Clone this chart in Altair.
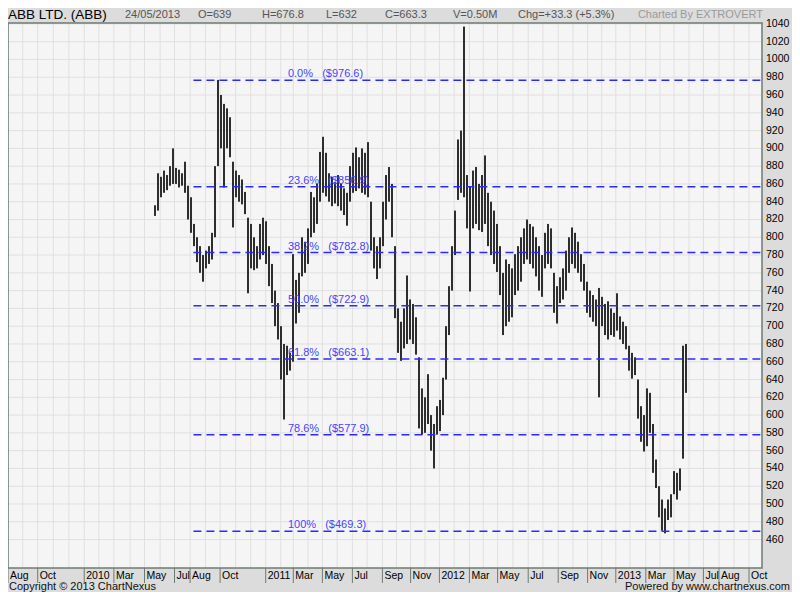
import altair as alt
import pandas as pd

# ---------------- data ----------------
# weekly price bars (high / low), first bar at bar-index 49, one index per week
bar_high = [836, 872, 868, 875, 870, 880, 900, 878, 876, 872,
            885, 858, 845, 815, 800, 790, 780, 785, 790, 805,
            880, 977, 960, 950, 945, 935, 885, 875, 870, 865,
            851, 822, 815, 800, 790, 815, 822, 818, 790, 770,
            740, 726, 700, 680, 678, 670, 781, 752, 760, 800,
            795, 810, 851, 845, 860, 896, 913, 895, 872, 868,
            862, 870, 860, 855, 850, 880, 895, 901, 890, 900,
            895, 907, 840, 800, 790, 800, 840, 870, 879, 860,
            790, 720, 705, 720, 757, 730, 725, 710, 665, 630,
            620, 646, 600, 590, 610, 617, 642, 700, 745, 790,
            830, 910, 920, 1037, 870, 857, 875, 879, 860, 870,
            892, 850, 840, 830, 815, 790, 760, 775, 770, 765,
            781, 790, 800, 810, 820, 815, 812, 800, 790, 780,
            805, 815, 810, 760, 745, 755, 765, 785, 800, 811,
            805, 795, 781, 770, 750, 740, 735, 730, 743, 733,
            725, 728, 720, 715, 737, 711, 705, 700, 678, 670,
            665, 640, 610, 600, 630, 625, 590, 550, 520, 505,
            495, 505, 511, 537, 535, 540, 678, 680]
bar_low = [824, 830, 845, 850, 853, 858, 860, 860, 856, 858,
           850, 820, 805, 790, 772, 760, 750, 765, 770, 775,
           800, 880, 900, 856, 900, 890, 811, 845, 840, 837,
           826, 737, 765, 763, 765, 775, 780, 770, 745, 726,
           700, 685, 640, 595, 645, 650, 660, 703, 715, 756,
           760, 770, 800, 805, 815, 840, 850, 846, 840, 835,
           838, 835, 830, 825, 813, 840, 850, 852, 855, 850,
           848, 845, 785, 765, 753, 765, 790, 820, 840, 800,
           709, 670, 661, 675, 680, 685, 680, 668, 585, 578,
           580, 590, 560, 540, 578, 582, 600, 640, 690, 740,
           780, 842, 850, 845, 810, 739, 810, 815, 808, 806,
           815, 790, 780, 770, 761, 735, 690, 700, 705, 710,
           735, 740, 750, 770, 775, 770, 765, 756, 740, 733,
           765, 770, 765, 715, 703, 726, 730, 740, 760, 770,
           765, 760, 750, 740, 715, 710, 705, 700, 620, 700,
           690, 685, 690, 688, 695, 685, 680, 674, 650, 641,
           645, 596, 570, 559, 565, 580, 535, 518, 485, 470,
           467, 482, 485, 511, 505, 515, 551, 625]
first_bar = 49

# Fibonacci retracement levels
fib_pct = ["0.0%", "23.6%", "38.2%", "50.0%", "61.8%", "78.6%", "100%"]
fib_level = [976.6, 856.9, 782.8, 722.9, 663.1, 577.9, 469.3]
fib_start_bar = 61.8
fib_label_bar = 93.3

# time axis (bar-index of month starts) and its labels
month_bars = [0, 4.9, 9.9, 15.1, 20.3, 25.4, 30.3, 35.3, 40.7, 45.5,
              50.7, 55.5, 60.7, 65.8, 70.7, 75.9, 80.9, 85.9, 90.9, 95.1,
              100, 104.8, 109.7, 114.8, 119.7, 124.8, 129.5, 134.2, 139, 143.8,
              148.7, 153.8, 158.4, 163.2, 168.3, 173.4, 178.3, 183.4, 188.3, 193.2,
              197.9, 202.6, 207.3, 212.6, 217.3, 222, 227, 231.8, 237, 242, 247]
tick_bars = [0, 9.9, 25.4, 35.3, 45.5, 55.5, 60.7, 70.7, 85.9, 95.1,
             104.8, 114.8, 124.8, 134.2, 143.8, 153.8, 163.2, 173.4, 183.4, 193.2,
             202.6, 212.6, 222, 231.8, 237, 247]
tick_labels = ["Aug", "Oct", "2010", "Mar", "May", "Jul", "Aug", "Oct", "2011", "Mar",
               "May", "Jul", "Sep", "Nov", "2012", "Mar", "May", "Jul", "Sep", "Nov",
               "2013", "Mar", "May", "Jul", "Aug", "Oct"]
bar_domain = [0, 251.33]
price_domain = [428, 1041]
price_ticks = list(range(460, 1041, 20))

header_texts = ["ABB LTD. (ABB)", "24/05/2013", "O=639", "H=676.8", "L=632",
                "C=663.3", "V=0.50M", "Chg=+33.3 (+5.3%)", "Charted By EXTROVERT"]
footer_left = "Copyright \u00a9 2013 ChartNexus"
footer_right = "Powered by www.chartnexus.com"

# ---------------- tables ----------------
bars = pd.DataFrame({
    "bar": [first_bar + i for i in range(len(bar_high))],
    "high": bar_high,
    "low": bar_low,
})
NBSP = "\u00a0"
fib = pd.DataFrame({
    "level": fib_level,
    "start": [fib_start_bar] * len(fib_level),
    "end": [bar_domain[1]] * len(fib_level),
    "lx": [fib_label_bar] * len(fib_level),
    "label": [f"{p}{NBSP * 3}(${v:.1f})" for p, v in zip(fib_pct, fib_level)],
})
months = pd.DataFrame({"m": month_bars})
prices = pd.DataFrame({"p": price_ticks, "lab": [str(p) for p in price_ticks]})
xticks = pd.DataFrame({"t": tick_bars, "lab": tick_labels})
frame = pd.DataFrame({"x0": [bar_domain[0]], "x1": [bar_domain[1]],
                      "y0": [price_domain[0]], "y1": [price_domain[1]]})
one = pd.DataFrame({"k": [0]})

FONT = "Liberation Sans"
W, H = 754, 545
xscale = alt.Scale(domain=bar_domain, nice=False, zero=False)
yscale = alt.Scale(domain=price_domain, nice=False, zero=False)
GRID = "#e0e0e0"
BORDER = "#6f7a72"


def X(field):
    return alt.X(field, scale=xscale, axis=None)


def Y(field):
    return alt.Y(field, scale=yscale, axis=None)


# light plot area spanning the full scale domains
plot_bg = alt.Chart(frame).mark_rect(color="#f5f5f5").encode(
    x=X("x0:Q"), x2="x1:Q", y=Y("y0:Q"), y2="y1:Q")

vgrid = alt.Chart(months).mark_rule(color=GRID, strokeWidth=1).encode(x=X("m:Q"))
hgrid = alt.Chart(prices).mark_rule(color=GRID, strokeWidth=1).encode(y=Y("p:Q"))

price_layer = alt.Chart(bars).mark_rule(color="#2e2e2e", strokeWidth=2).encode(
    x=X("bar:Q"), y=Y("low:Q"), y2="high:Q")

fib_lines = alt.Chart(fib).mark_rule(color="#2a2aff", strokeWidth=1.6, strokeDash=[8, 5]).encode(
    x=X("start:Q"), x2="end:Q", y=Y("level:Q"))

fib_text = alt.Chart(fib).mark_text(
    align="left", baseline="alphabetic", dy=-3, color="#4646ff", fontSize=11, font=FONT
).encode(x=X("lx:Q"), y=Y("level:Q"), text="label:N")

border = alt.Chart(frame).mark_rect(fillOpacity=0, stroke=BORDER, strokeWidth=1.5).encode(
    x=X("x0:Q"), x2="x1:Q", y=Y("y0:Q"), y2="y1:Q")

# time axis: separator ticks below the plot and month / year labels
x_ticks = alt.Chart(xticks).mark_rule(color=BORDER, strokeWidth=1).encode(
    x=X("t:Q"), y=alt.value(H), y2=alt.value(H + 15))
x_labels = alt.Chart(xticks).mark_text(
    align="left", baseline="top", dx=2, fontSize=10.5, color="#000000", font=FONT
).encode(x=X("t:Q"), y=alt.value(H + 2.5), text="lab:N")

# price axis labels on the right
y_labels = alt.Chart(prices).mark_text(
    align="left", baseline="middle", fontSize=10.5, color="#000000", font=FONT
).encode(x=alt.value(W + 4), y=Y("p:Q"), text="lab:N")

layers = [plot_bg, vgrid, hgrid, price_layer, fib_lines, fib_text, border,
          x_ticks, x_labels, y_labels]

header_x = [0, 117, 190, 254, 318, 377, 445, 510, 755]
for i, (t, hx) in enumerate(zip(header_texts, header_x)):
    if i == 0:
        col, size, al = "#000000", 13.5, "left"
    elif i == len(header_texts) - 1:
        col, size, al = "#9a9a9a", 11, "right"
    else:
        col, size, al = "#555555", 11, "left"
    layers.append(alt.Chart(one).mark_text(
        text=t, x=hx, y=-8, align=al, baseline="middle",
        color=col, fontSize=size, font=FONT))
layers.append(alt.Chart(one).mark_text(
    text=footer_left, x=1, y=563.5, align="left", baseline="middle",
    color="#111111", fontSize=11, font=FONT))
layers.append(alt.Chart(one).mark_text(
    text=footer_right, x=782, y=563.5, align="right", baseline="middle",
    color="#111111", fontSize=11, font=FONT))

chart = alt.layer(*layers).resolve_scale(x="shared", y="shared").properties(
    width=W, height=H,
    padding={"left": 0, "right": 30, "top": 15, "bottom": 24},
    autosize=alt.AutoSizeParams(type="none"),
    background="#dcdcdc",
).configure_view(strokeWidth=0).configure_text(font=FONT)

chart.save("out.html", embed_options={"renderer": "svg", "actions": False})
